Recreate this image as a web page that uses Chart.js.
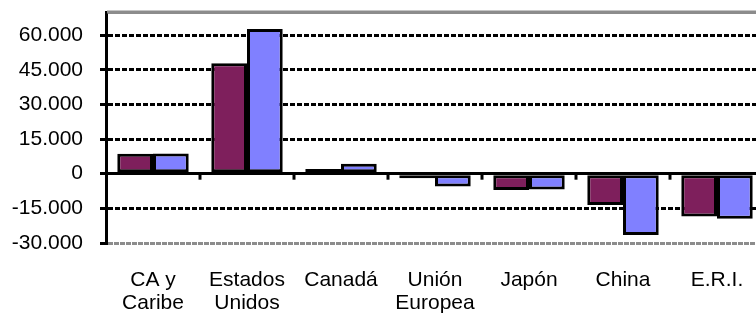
<!DOCTYPE html>
<html>
<head>
<meta charset="utf-8">
<script src="https://cdn.jsdelivr.net/npm/chart.js@4/dist/chart.umd.min.js"></script>
<style>
    html, body { margin: 0; padding: 0; background: #fff; overflow: hidden; }
    #wrap { width: 766px; height: 315px; }
</style>
</head>
<body>
<div id="wrap"><canvas id="balanceChart"></canvas></div>
<script>
// Balance por socio comercial

const categories = [['CA y', 'Caribe'], ['Estados', 'Unidos'], 'Canadá', ['Unión', 'Europea'], 'Japón', 'China', 'E.R.I.'];
const serie1 = [8600, 47800, 2000, -2000, -7100, -13500, -18500];
const serie2 = [8700, 62600, 4300, -5500, -6800, -26500, -19500];
const yTicks = [-30000, -15000, 0, 15000, 30000, 45000, 60000, 70000];
const yMin = -30000;
const yMax = 70000;

function fmt(v) {
    const s = String(Math.abs(v)).replace(/\B(?=(\d{3})+(?!\d))/g, '.');
    return (v < 0 ? '-' : '') + s;
}

// gray frame line on top of the plot area
const topLine = {
    id: 'topLine',
    afterDraw(chart) {
        const { ctx, chartArea } = chart;
        const py = chart.scales.y.getPixelForValue(yMax);
        ctx.save();
        ctx.setLineDash([]);
        ctx.strokeStyle = '#8c8c8c';
        ctx.lineWidth = 3;
        ctx.beginPath();
        ctx.moveTo(chartArea.left + 1, py);
        ctx.lineTo(chartArea.right, py);
        ctx.stroke();
        ctx.restore();
    }
};

// small tick marks hanging from the zero line between categories
const zeroTicks = {
    id: 'zeroTicks',
    afterDatasetsDraw(chart) {
        const x = chart.scales.x;
        const y = chart.scales.y;
        const y0 = y.getPixelForValue(0);
        const ctx = chart.ctx;
        ctx.save();
        ctx.setLineDash([]);
        ctx.strokeStyle = '#000';
        ctx.lineWidth = 3;
        for (let i = 1; i < categories.length; i++) {
            const px = (x.getPixelForValue(i - 1) + x.getPixelForValue(i)) / 2;
            ctx.beginPath();
            ctx.moveTo(px, y0);
            ctx.lineTo(px, y0 + 6);
            ctx.stroke();
        }
        ctx.restore();
    }
};

const ctx = document.getElementById('balanceChart');
new Chart(ctx, {
    type: 'bar',
    data: {
        labels: categories,
        datasets: [{
            label: 'Serie 1',
            data: serie1,
            backgroundColor: '#7e1f5c',
            borderColor: '#000',
            borderWidth: 3,
            borderSkipped: false
        }, {
            label: 'Serie 2',
            data: serie2,
            backgroundColor: '#8080ff',
            borderColor: '#000',
            borderWidth: 3,
            borderSkipped: false
        }]
    },
    options: {
        responsive: true,
        maintainAspectRatio: false,
        animation: false,
        categoryPercentage: 0.76,
        barPercentage: 1,
        layout: { padding: { top: 12, right: 2, left: 0, bottom: 0 } },
        plugins: {
            legend: { display: false },
            tooltip: { enabled: false }
        },
        scales: {
            x: {
                grid: { display: false, drawTicks: false },
                border: { display: false },
                ticks: {
                    color: '#000',
                    padding: 26,
                    maxRotation: 0,
                    autoSkip: false,
                    font: { family: 'Liberation Sans, Arial, sans-serif', size: 21, lineHeight: 1.1 }
                },
                afterFit(scale) {
                    scale.height = 72;
                    scale.paddingLeft = 0;
                    scale.paddingRight = 0;
                }
            },
            y: {
                min: yMin,
                max: yMax,
                afterBuildTicks(scale) {
                    scale.ticks = yTicks.map(v => ({ value: v }));
                },
                ticks: {
                    color: '#000',
                    padding: 17,
                    font: { family: 'Liberation Sans, Arial, sans-serif', size: 21 },
                    callback: v => (v === yMax ? '' : fmt(v))
                },
                grid: {
                    lineWidth: 3,
                    color: c => {
                        const v = c.tick && c.tick.value;
                        if (v === yMax || v === yMin) return '#8c8c8c';
                        return '#000';
                    },
                    tickColor: c => (c.tick && c.tick.value === yMax ? 'rgba(0,0,0,0)' : '#000'),
                    tickLength: 6,
                    tickWidth: 3
                },
                border: {
                    color: '#000',
                    width: 3,
                    dash: c => {
                        const v = c.tick && c.tick.value;
                        if (v === 0 || v === yMax) return [];
                        if (v === yMin) return [5, 1];
                        return [5, 2];
                    }
                },
                afterFit(scale) {
                    scale.width = 106;
                    scale.paddingTop = 0;
                    scale.paddingBottom = 0;
                }
            }
        }
    },
    plugins: [topLine, zeroTicks]
});
</script>
</body>
</html>
